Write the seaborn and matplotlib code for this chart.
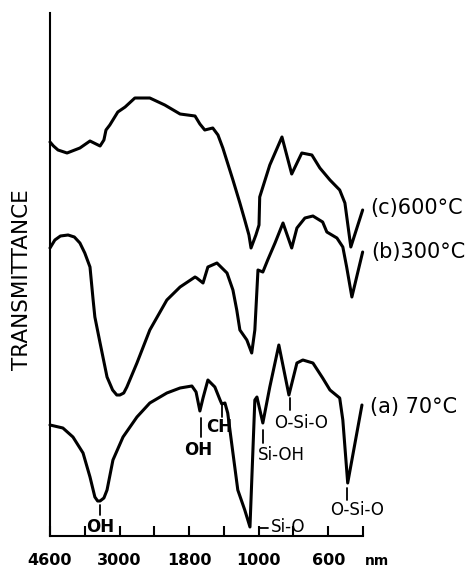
import matplotlib
matplotlib.use("Agg")
import matplotlib.pyplot as plt
import seaborn as sns
import pandas as pd

# x position along the (non-linear) wavenumber axis, in tick units (0 = 4600, 9 = right end)
# y = transmittance in arbitrary chart units, spectra offset vertically
c_x = [0, 0.1, 0.23, 0.49, 0.86, 1.15, 1.44, 1.55, 1.61, 1.72, 1.95, 2.16, 2.44, 2.87, 3.30, 3.74,
       4.17, 4.31, 4.45, 4.68, 4.83, 4.97, 5.26, 5.46, 5.60, 5.72, 5.78, 5.92, 6.01, 6.03, 6.32,
       6.67, 6.95, 7.24, 7.53, 7.76, 8.05, 8.33, 8.48, 8.65, 8.99]
c_y = [394, 390, 386, 383, 388, 395, 390, 396, 406, 411, 424, 429, 438, 438, 431, 422,
       420, 412, 406, 408, 401, 388, 356, 333, 316, 301, 288, 301, 311, 339, 371,
       399, 362, 383, 381, 368, 356, 346, 333, 289, 326]

b_x = [0, 0.14, 0.3, 0.52, 0.7, 0.86, 1.0, 1.15, 1.24, 1.29, 1.44, 1.64, 1.80, 1.92, 2.01, 2.12,
       2.21, 2.50, 2.87, 3.36, 3.74, 4.17, 4.22, 4.40, 4.54, 4.80, 5.09, 5.26, 5.37, 5.46, 5.66,
       5.80, 5.89, 5.98, 6.12, 6.26, 6.47, 6.70, 6.95, 7.10, 7.33, 7.56, 7.84, 7.96, 8.25, 8.42,
       8.53, 8.68, 8.99]
b_y = [288, 296, 300, 301, 299, 293, 283, 269, 236, 219, 193, 159, 146, 141, 141, 143,
       149, 173, 206, 236, 249, 259, 258, 253, 269, 273, 263, 246, 226, 206, 196,
       183, 206, 266, 264, 276, 293, 313, 288, 308, 318, 320, 314, 304, 298, 289,
       269, 239, 284]

a_x = [0, 0.37, 0.66, 0.95, 1.15, 1.29, 1.37, 1.44, 1.55, 1.64, 1.81, 2.10, 2.50, 2.87, 3.36, 3.74,
       4.08, 4.20, 4.31, 4.40, 4.54, 4.74, 4.89, 4.94, 5.03, 5.11, 5.26, 5.40, 5.60, 5.75, 5.89,
       5.95, 6.12, 6.32, 6.58, 6.87, 7.10, 7.27, 7.56, 7.84, 8.05, 8.33, 8.42, 8.56, 8.97]
a_y = [111, 108, 99, 83, 59, 39, 35, 35, 38, 46, 76, 99, 119, 133, 143, 148,
       150, 144, 125, 138, 156, 149, 136, 132, 133, 123, 83, 46, 26, 9, 136,
       139, 113, 149, 191, 141, 173, 176, 173, 158, 146, 138, 116, 53, 131]

tick_pos = [0, 1, 2, 3, 4, 5, 6, 7, 8, 9]
tick_labels = ["4600", "", "3000", "", "1800", "", "1000", "", "600", ""]

sns.set_style("ticks")
plt.rcParams['font.family'] = ['DejaVu Sans']
plt.rcParams['text.color'] = 'black'
plt.rcParams['xtick.color'] = 'black'
plt.rcParams['axes.edgecolor'] = 'black'
plt.rcParams['axes.labelcolor'] = 'black'

fig = plt.figure(figsize=(4.74, 5.71), dpi=100)
ax = fig.add_axes([50/474, 35/571, 313/474, 523/571])

df = pd.concat([
    pd.DataFrame({'pos': c_x, 'T': c_y, 'sample': 'c'}),
    pd.DataFrame({'pos': b_x, 'T': b_y, 'sample': 'b'}),
    pd.DataFrame({'pos': a_x, 'T': a_y, 'sample': 'a'}),
])
for s in ['c', 'b', 'a']:
    sns.lineplot(data=df[df['sample'] == s], x='pos', y='T', color='black', lw=2.2,
                 ax=ax, sort=False, clip_on=False)

ax.set_xlim(0, 9)
ax.set_ylim(0, 523)
ax.set_xticks(tick_pos)
ax.set_xticklabels(tick_labels, fontsize=11.5, fontweight='bold')
ax.tick_params(axis='x', direction='in', length=7, width=1.5, pad=12, colors='black')
ax.set_yticks([])
ax.set_xlabel('')
ax.set_ylabel('')
for sp in ['top', 'right']:
    ax.spines[sp].set_visible(False)
for sp in ['left', 'bottom']:
    ax.spines[sp].set_linewidth(1.5)
    ax.spines[sp].set_color('black')
ax.text(9.4, -25, 'nm', ha='center', va='center', fontsize=10, fontweight='bold', clip_on=False)

# series labels
ax.text(9.2, 328, '(c)600°C', fontsize=15, va='center', ha='left', clip_on=False)
ax.text(9.25, 284, '(b)300°C', fontsize=15, va='center', ha='left', clip_on=False)
ax.text(9.2, 129, '(a) 70°C', fontsize=15, va='center', ha='left', clip_on=False)

# band assignments
lw_t = 1.3
ax.plot([1.44, 1.44], [31, 21], color='black', lw=lw_t)
ax.text(1.44, 9, 'OH', ha='center', va='center', fontsize=12, fontweight='bold')
ax.plot([4.34, 4.34], [118, 99], color='black', lw=lw_t)
ax.text(4.25, 86, 'OH', ha='center', va='center', fontsize=12, fontweight='bold')
ax.plot([4.94, 4.94], [132, 119], color='black', lw=lw_t)
ax.text(4.48, 109, 'CH', ha='left', va='center', fontsize=12, fontweight='bold')
ax.plot([6.12, 6.12], [106, 93], color='black', lw=lw_t)
ax.text(5.98, 81, 'Si-OH', ha='left', va='center', fontsize=12)
ax.plot([6.90, 6.90], [138, 126], color='black', lw=lw_t)
ax.text(7.21, 113, 'O-Si-O', ha='center', va='center', fontsize=12)
ax.plot([8.53, 8.53], [48, 36], color='black', lw=lw_t)
ax.text(8.82, 26, 'O-Si-O', ha='center', va='center', fontsize=12)
ax.plot([6.0, 6.26], [8, 8], color='black', lw=lw_t, clip_on=False)
ax.text(6.36, 9, 'Si-O', ha='left', va='center', fontsize=12, clip_on=False)

fig.text(22/474, 1 - 280/571, 'TRANSMITTANCE', rotation=90, ha='center', va='center', fontsize=15.5)

fig.savefig('out.png', dpi=100)
